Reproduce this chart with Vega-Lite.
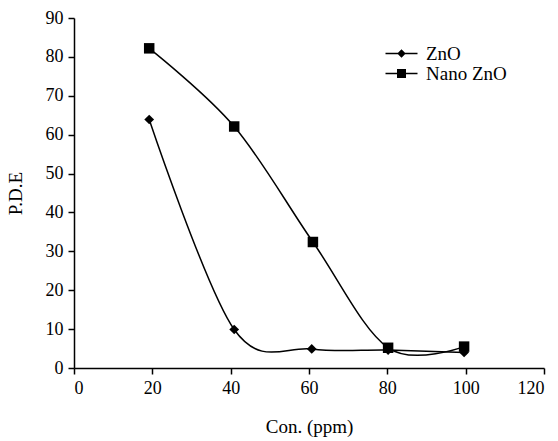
{
  "$schema": "https://vega.github.io/schema/vega-lite/v6.json",
  "width": 470,
  "height": 350,
  "autosize": "none",
  "padding": {"left": 74, "top": 18, "right": 14, "bottom": 73},
  "background": "white",
  "config": {
    "view": {"stroke": null},
    "font": "Liberation Serif",
    "axis": {
      "domainColor": "black",
      "domainWidth": 1.5,
      "tickColor": "black",
      "tickWidth": 1.5,
      "tickSize": 6,
      "grid": false,
      "labelFont": "Liberation Serif",
      "labelFontSize": 18,
      "labelColor": "black",
      "titleFont": "Liberation Serif",
      "titleFontSize": 19,
      "titleFontWeight": "normal",
      "titleColor": "black"
    },
    "legend": {
      "labelFont": "Liberation Serif"
    }
  },
  "data": {
    "values": [
      {"series": "ZnO", "con": 19.2, "pde": 63.9},
      {"series": "ZnO", "con": 40.9, "pde": 9.9},
      {"series": "ZnO", "con": 60.7, "pde": 4.9},
      {"series": "ZnO", "con": 80.2, "pde": 4.6},
      {"series": "ZnO", "con": 99.6, "pde": 4.0},
      {"series": "Nano ZnO", "con": 19.2, "pde": 82.2},
      {"series": "Nano ZnO", "con": 40.9, "pde": 62.1},
      {"series": "Nano ZnO", "con": 61.0, "pde": 32.4},
      {"series": "Nano ZnO", "con": 80.2, "pde": 5.2},
      {"series": "Nano ZnO", "con": 99.6, "pde": 5.5}
    ]
  },
  "encoding": {
    "x": {
      "field": "con",
      "type": "quantitative",
      "title": "Con. (ppm)",
      "scale": {"domain": [0, 120], "nice": false},
      "axis": {"values": [0, 20, 40, 60, 80, 100, 120], "labelPadding": 5, "titlePadding": 20}
    },
    "y": {
      "field": "pde",
      "type": "quantitative",
      "title": "P.D.E",
      "scale": {"domain": [0, 90], "nice": false},
      "axis": {"values": [0, 10, 20, 30, 40, 50, 60, 70, 80, 90], "labelPadding": 5, "titlePadding": 20}
    }
  },
  "layer": [
    {
      "mark": {"type": "line", "interpolate": "cardinal", "tension": 0, "color": "black", "strokeWidth": 1.5},
      "encoding": {"detail": {"field": "series"}}
    },
    {
      "mark": {"type": "point", "filled": true, "color": "black", "opacity": 1},
      "encoding": {
        "shape": {
          "field": "series",
          "scale": {"domain": ["ZnO", "Nano ZnO"], "range": ["diamond", "square"]},
          "legend": null
        },
        "size": {
          "field": "series",
          "scale": {"domain": ["ZnO", "Nano ZnO"], "range": [95, 110]},
          "legend": null
        }
      }
    },
    {
      "mark": {"type": "point", "filled": true, "color": "black", "opacity": 0},
      "encoding": {
        "shape": {
          "field": "series",
          "title": null,
          "scale": {
            "domain": ["ZnO", "Nano ZnO"],
            "range": [
              "M-3.2,-0.15L3.2,-0.15L3.2,0.15L-3.2,0.15ZM0,-0.85L0.85,0L0,0.85L-0.85,0Z",
              "M-3.2,-0.15L3.2,-0.15L3.2,0.15L-3.2,0.15ZM-0.9,-0.9L0.9,-0.9L0.9,0.9L-0.9,0.9Z"
            ]
          },
          "legend": {
            "orient": "none",
            "legendX": 318,
            "legendY": 26,
            "symbolSize": 100,
            "symbolOpacity": 1,
            "symbolFillColor": "black",
            "symbolStrokeColor": "black",
            "symbolStrokeWidth": 0,
            "labelFontSize": 19,
            "labelColor": "black",
            "labelOffset": 15,
            "rowPadding": 0
          }
        }
      }
    }
  ],
  "resolve": {"scale": {"shape": "independent"}, "legend": {"shape": "independent"}}
}
